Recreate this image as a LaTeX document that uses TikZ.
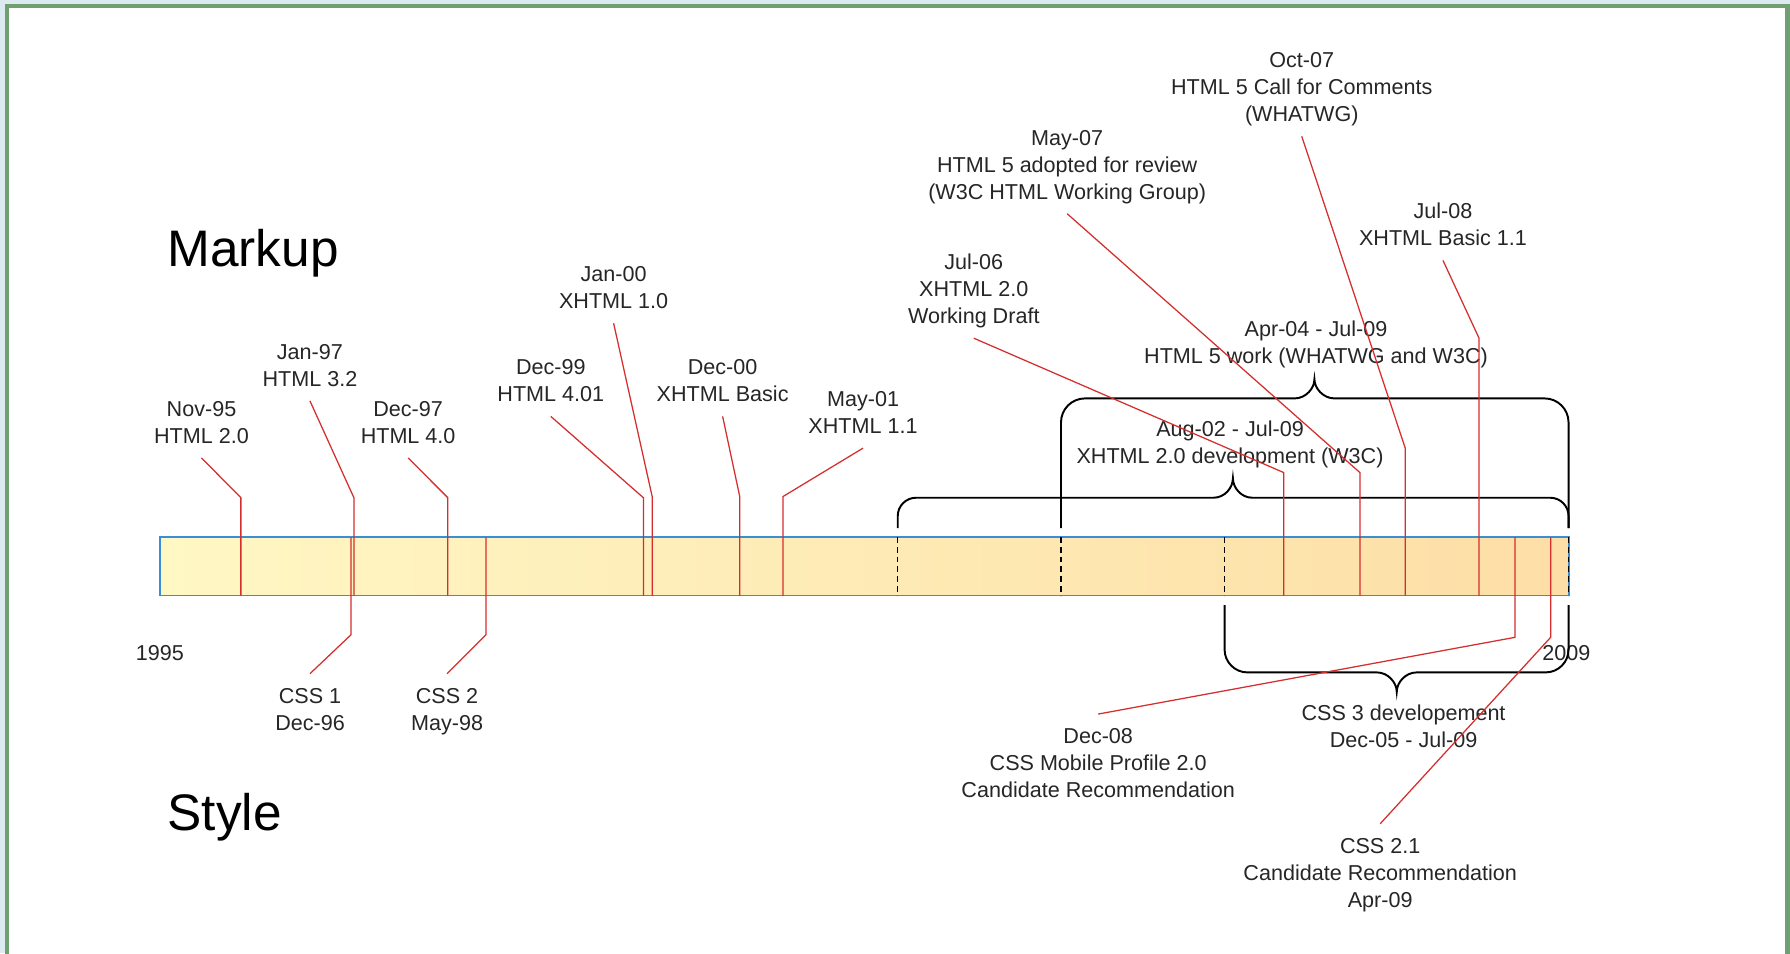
\documentclass[tikz,border=0pt]{standalone}
\usepackage{fontspec}
\setmainfont{Liberation Sans}
\usepackage{xcolor}
\usetikzlibrary{calc}
\definecolor{ink}{RGB}{38,38,38}
\definecolor{tick}{RGB}{212,46,46}
\definecolor{barblue}{RGB}{58,142,214}
\definecolor{barleft}{RGB}{255,247,196}
\definecolor{barright}{RGB}{253,222,166}
\definecolor{edge}{RGB}{112,160,112}
\definecolor{sky}{RGB}{220,234,242}

\begin{document}
\begin{tikzpicture}[x=1pt,y=-1pt,
  lab/.style={font=\fontsize{18.9}{23.7}\selectfont,text=ink,align=center,text depth=0pt,inner xsep=2pt,inner ysep=12.5pt},
  head/.style={font=\fontsize{45}{54}\selectfont,text=black,anchor=base west,inner sep=0pt},
  leader/.style={draw=tick,line width=1.1pt},
  brace/.style={draw=black,line width=1.7pt},
  cut/.style={draw=black,line width=1.3pt,dash pattern=on 5pt off 3.5pt},
  bar/.style={draw=barblue,line width=1.6pt,left color=barleft,right color=barright,minimum width=1234pt,minimum height=51pt,inner sep=0pt,outer sep=0pt}]
\useasboundingbox (0,0) rectangle (1568,835);
\clip (0,0) rectangle (1568,835);
\fill[sky] (0,0) rectangle (1568,835);
\draw[edge,line width=4pt,fill=white] (6.2,5.1) rectangle (1566,850);
\node[head] (markup) at (146.5,233.5) {Markup};
\node[head] (style) at (146.5,727.6) {Style};
\node[bar,anchor=north west] (bar) at (140.2,470.7) {};
\node[lab,inner ysep=2pt] (y1995) at (140,572) {1995};
\node[lab,inner ysep=2pt] (y2009) at (1372,572) {2009};
\node[lab] (nov95) at (176.5,370) {Nov-95\\HTML 2.0};
\node[lab] (jan97) at (271.5,320) {Jan-97\\HTML 3.2};
\node[lab] (dec97) at (357.5,370) {Dec-97\\HTML 4.0};
\node[lab] (dec99) at (482.5,333.6) {Dec-99\\HTML 4.01};
\node[lab] (jan00) at (537.5,252) {Jan-00\\XHTML 1.0};
\node[lab] (dec00) at (633,333.6) {Dec-00\\XHTML Basic};
\node[lab] (may01) at (756,361.4) {May-01\\XHTML 1.1};
\node[lab] (jul06) at (853,253) {Jul-06\\XHTML 2.0\\Working Draft};
\node[lab] (may07) at (934.8,144.2) {May-07\\HTML 5 adopted for review\\(W3C HTML Working Group)};
\node[lab] (oct07) at (1140.3,76.4) {Oct-07\\HTML 5 Call for Comments\\(WHATWG)};
\node[lab] (jul08) at (1264,196.7) {Jul-08\\XHTML Basic 1.1};
\node[lab] (css1) at (271.6,621.2) {CSS 1\\Dec-96};
\node[lab] (css2) at (391.6,621.2) {CSS 2\\May-98};
\node[lab] (dec08) at (962,668.5) {Dec-08\\CSS Mobile Profile 2.0\\Candidate Recommendation};
\node[lab] (css21) at (1209,764.6) {CSS 2.1\\Candidate Recommendation\\Apr-09};
\node[lab] (xhtml2) at (1077.5,387) {Aug-02 - Jul-09\\XHTML 2.0 development (W3C)};
\node[lab] (html5) at (1152.8,299.7) {Apr-04 - Jul-09\\HTML 5 work (WHATWG and W3C)};
\node[lab] (css3) at (1229.5,636.5) {CSS 3 developement\\Dec-05 - Jul-09};
\coordinate (x2s) at (786.4,462.6);
\coordinate (x2e) at (1374,462.6);
\coordinate (h5s) at (929.4,462.6);
\coordinate (h5e) at (1374,462.6);
\coordinate (c3s) at (1072.7,530);
\coordinate (c3e) at (1374,530);
\foreach \c in {x2s,h5s,c3s,x2e}{\draw[cut] (\c |- bar.north) -- (\c |- bar.south);}
\draw[brace] (x2s) -- (786.4,452) .. controls (786.4,443.2) and (793.6,436) .. (802.4,436) -- (1063,436) .. controls (1073,436) and (1080,427) .. (1080,419) .. controls (1080,427) and (1087,436) .. (1097,436) -- (1358,436) .. controls (1366.8,436) and (1374,443.2) .. (1374,452) -- (x2e);
\draw[brace] (h5s) -- (929.4,370) .. controls (929.4,358.4) and (938.8,349) .. (950.4,349) -- (1134,349) .. controls (1144,349) and (1151.4,340) .. (1151.4,332.3) .. controls (1151.4,340) and (1159,349) .. (1169,349) -- (1353,349) .. controls (1364.6,349) and (1374,358.4) .. (1374,370) -- (h5e);
\draw[brace] (c3s) -- (1072.7,569) .. controls (1072.7,580) and (1081.7,589) .. (1092.7,589) -- (1206,589) .. controls (1216,589) and (1223.5,598) .. (1223.5,606) .. controls (1223.5,598) and (1231,589) .. (1241,589) -- (1354,589) .. controls (1365,589) and (1374,580) .. (1374,569) -- (c3e);
\foreach \n/\x/\k in {nov95/211/436,jan97/310/436,dec97/392.3/436,dec99/563.6/436,jan00/571.3/435,dec00/648/435,may01/685.8/435,jul06/1124.6/414,may07/1191.3/414,oct07/1231/392.7,jul08/1295.5/296}{
  \coordinate (\n-k) at (\x,\k);
  \draw[leader] (\n.south) -- (\n-k) -- (\n-k |- bar.south);}
\foreach \n/\x/\k in {css1/307.5/556,css2/425.7/556,dec08/1327/558.3,css21/1358.3/558.3}{
  \coordinate (\n-k) at (\x,\k);
  \draw[leader] (\n-k |- bar.north) -- (\n-k) -- (\n.north);}
\end{tikzpicture}
\end{document}
